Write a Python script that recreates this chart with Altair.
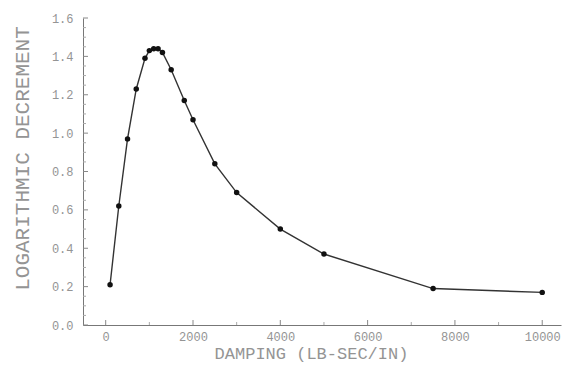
import altair as alt
import pandas as pd

# Data
damping = [100, 300, 500, 700, 900, 1000, 1100, 1200, 1300, 1500, 1800, 2000,
           2500, 3000, 4000, 5000, 7500, 10000]
logdec = [0.21, 0.62, 0.97, 1.23, 1.39, 1.43, 1.44, 1.44, 1.42, 1.33, 1.17, 1.07,
          0.84, 0.69, 0.50, 0.37, 0.19, 0.17]

x_major = [0, 2000, 4000, 6000, 8000, 10000]
x_minor = [1000, 3000, 5000, 7000, 9000]
y_major = [0.0, 0.2, 0.4, 0.6, 0.8, 1.0, 1.2, 1.4, 1.6]
y_minor = [0.05, 0.1, 0.15, 0.25, 0.3, 0.35, 0.45, 0.5, 0.55, 0.65, 0.7, 0.75,
           0.85, 0.9, 0.95, 1.05, 1.1, 1.15, 1.25, 1.3, 1.35, 1.45, 1.5, 1.55]

W, H = 478, 307
FONT = "Liberation Mono"
GRAY = "#949494"

df = pd.DataFrame({"damping": damping, "logdec": logdec})

xscale = alt.Scale(domain=[-520, 10430], nice=False, zero=False)
yscale = alt.Scale(domain=[0, 1.6], nice=False, zero=False)

xaxis = alt.Axis(values=x_major, format="d", title="DAMPING (LB-SEC/IN)",
                 labelFont=FONT, labelFontSize=12, labelColor=GRAY,
                 titleFont=FONT, titleFontSize=17, titleFontWeight="normal",
                 titleColor=GRAY, labelPadding=6, titlePadding=3, titleX=228,
                 ticks=False, grid=False, domainColor="#777", labelFlush=False)
yaxis = alt.Axis(values=y_major, format=".1f", title="LOGARITHMIC DECREMENT",
                 labelFont=FONT, labelFontSize=12, labelColor=GRAY,
                 titleFont=FONT, titleFontSize=21, titleFontWeight="normal",
                 titleColor=GRAY, labelPadding=10, titlePadding=19, titleY=140,
                 ticks=False, grid=False, domainColor="#777", labelFlush=False)

base = alt.Chart(df)
line = base.mark_line(color="#333333", strokeWidth=1.4).encode(
    x=alt.X("damping:Q", scale=xscale, axis=xaxis),
    y=alt.Y("logdec:Q", scale=yscale, axis=yaxis),
)
pts = base.mark_circle(size=30, color="#111111", opacity=1).encode(
    x=alt.X("damping:Q", scale=xscale, axis=xaxis),
    y=alt.Y("logdec:Q", scale=yscale, axis=yaxis),
)

xmaj = alt.Chart(pd.DataFrame({"v": x_major})).mark_rule(color="#888").encode(
    x=alt.X("v:Q", scale=xscale, axis=xaxis), y=alt.value(H), y2=alt.value(H - 5))
xmin = alt.Chart(pd.DataFrame({"v": x_minor})).mark_rule(color="#aaa").encode(
    x=alt.X("v:Q", scale=xscale, axis=xaxis), y=alt.value(H), y2=alt.value(H - 3))
ymaj = alt.Chart(pd.DataFrame({"v": y_major})).mark_rule(color="#888").encode(
    y=alt.Y("v:Q", scale=yscale, axis=yaxis), x=alt.value(0), x2=alt.value(5))
ymin = alt.Chart(pd.DataFrame({"v": y_minor})).mark_rule(color="#aaa").encode(
    y=alt.Y("v:Q", scale=yscale, axis=yaxis), x=alt.value(0), x2=alt.value(3))

chart = alt.layer(line, pts, xmaj, xmin, ymaj, ymin).properties(
    width=W, height=H,
    autosize=alt.AutoSizeParams(type="none"),
    padding={"left": 75, "top": 10, "right": 1, "bottom": 38},
    background="white",
).configure_view(strokeWidth=0)

chart.save("out.html", embed_options={"renderer": "svg", "actions": False})
